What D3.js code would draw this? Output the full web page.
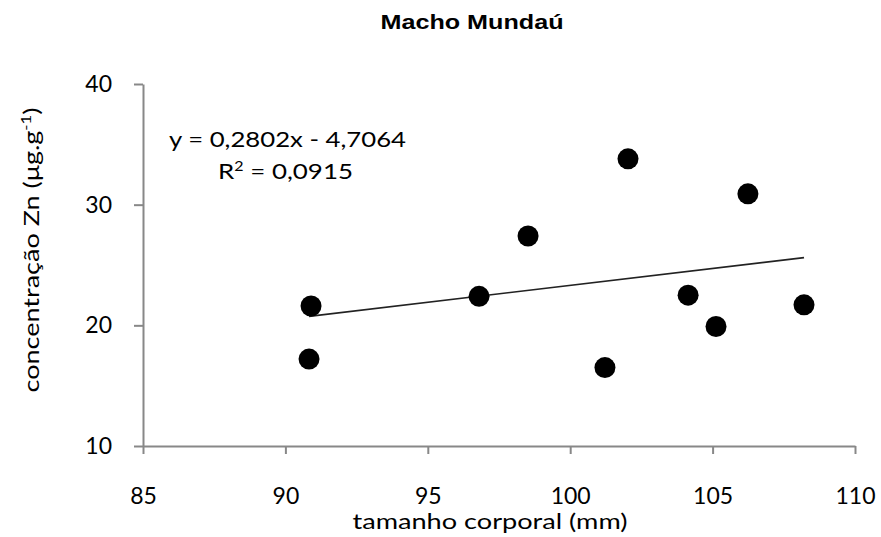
<!DOCTYPE html>
<html>
<head>
<meta charset="utf-8">
<script src="https://cdn.jsdelivr.net/npm/d3@7"></script>
<style>
  body { margin: 0; background: #fff; }
  text { font-family: Lato, "Open Sans", sans-serif; }
</style>
</head>
<body>
<div id="chart"></div>
<script>
// Data
const sizes = [90.9, 90.83, 96.8, 98.52, 101.22, 102.03, 104.14, 105.12, 106.24, 108.21];
const zinc = [21.6, 17.2, 22.4, 27.4, 16.5, 33.8, 22.5, 19.9, 30.9, 21.7];
const xTicks = [85, 90, 95, 100, 105, 110];
const yTicks = [10, 20, 30, 40];
const slope = 0.2802;
const intercept = -4.7064;

const width = 881;
const height = 537;
const marginTop = 84;
const marginRight = 26;
const marginBottom = 91;
const marginLeft = 143;

const x = d3.scaleLinear()
    .domain([85, 110])
    .range([marginLeft, width - marginRight]);

const y = d3.scaleLinear()
    .domain([10, 40])
    .range([height - marginBottom, marginTop]);

const svg = d3.select("#chart")
  .append("svg")
    .attr("width", width)
    .attr("height", height)
    .attr("viewBox", [0, 0, width, height]);

// Title
svg.append("text")
    .attr("x", 472)
    .attr("y", 29)
    .attr("text-anchor", "middle")
    .attr("textLength", 183)
    .attr("lengthAdjust", "spacingAndGlyphs")
    .style("font-family", "'Liberation Sans', Arial, sans-serif")
    .style("font-weight", "bold")
    .style("font-size", "21px")
    .text("Macho Mundaú");

// x-axis
svg.append("g")
    .attr("transform", `translate(0,${height - marginBottom})`)
    .call(d3.axisBottom(x).tickValues(xTicks).tickSize(8).tickSizeOuter(0).tickPadding(34))
    .call(g => g.select(".domain").attr("stroke", "#888").attr("stroke-width", 2))
    .call(g => g.selectAll(".tick line").attr("stroke", "#888").attr("stroke-width", 2))
    .call(g => g.selectAll(".tick text").attr("fill", "#000").style("font-size", "23px").attr("font-family", null));

// y-axis
svg.append("g")
    .attr("transform", `translate(${marginLeft},0)`)
    .call(d3.axisLeft(y).tickValues(yTicks).tickSize(9).tickSizeOuter(0).tickPadding(22))
    .call(g => g.select(".domain").attr("stroke", "#888").attr("stroke-width", 2))
    .call(g => g.selectAll(".tick line").attr("stroke", "#888").attr("stroke-width", 2))
    .call(g => g.selectAll(".tick text").attr("fill", "#000").style("font-size", "23px").attr("font-family", null));

// axis labels
svg.append("text")
    .attr("x", 490)
    .attr("y", 529)
    .attr("text-anchor", "middle")
    .attr("textLength", 275)
    .attr("lengthAdjust", "spacingAndGlyphs")
    .style("font-size", "21px")
    .text("tamanho corporal (mm)");

const yl = svg.append("text")
    .attr("transform", "translate(39,250) rotate(-90)")
    .attr("text-anchor", "middle")
    .attr("textLength", 285)
    .attr("lengthAdjust", "spacingAndGlyphs")
    .style("font-size", "21px");
yl.append("tspan").text("concentração Zn (μg.g");
yl.append("tspan").attr("dy", -8).style("font-size", "13px").text("-1");
yl.append("tspan").attr("dy", 8).text(")");

// trend line
const [x0, x1] = d3.extent(sizes);
svg.append("line")
    .attr("x1", x(x0))
    .attr("y1", y(slope * x0 + intercept))
    .attr("x2", x(x1))
    .attr("y2", y(slope * x1 + intercept))
    .attr("stroke", "#222")
    .attr("stroke-width", 1.6);

// points
svg.append("g")
  .selectAll("circle")
  .data(sizes)
  .join("circle")
    .attr("cx", d => x(d))
    .attr("cy", (d, i) => y(zinc[i]))
    .attr("r", 10.5)
    .attr("fill", "#000");

// equation
svg.append("text")
    .attr("x", 169)
    .attr("y", 147)
    .attr("textLength", 237)
    .attr("lengthAdjust", "spacingAndGlyphs")
    .style("font-size", "21px")
    .text("y = 0,2802x - 4,7064");

const r2 = svg.append("text")
    .attr("x", 218)
    .attr("y", 179)
    .attr("textLength", 135)
    .attr("lengthAdjust", "spacingAndGlyphs")
    .style("font-size", "21px");
r2.append("tspan").text("R");
r2.append("tspan").attr("dy", -8).style("font-size", "13px").text("2");
r2.append("tspan").attr("dy", 8).text(" = 0,0915");
</script>
</body>
</html>
